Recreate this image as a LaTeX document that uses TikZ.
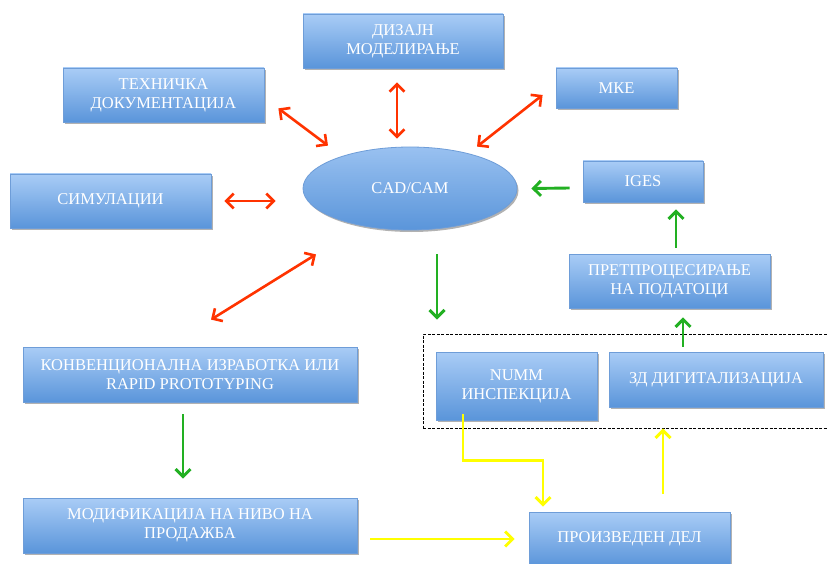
\documentclass[tikz,border=0pt]{standalone}
\usepackage{fontspec}
\setmainfont{Liberation Serif}
\usetikzlibrary{arrows.meta,shadows,calc,shapes.geometric}

\definecolor{boxtop}{HTML}{A9CCF6}
\definecolor{boxbot}{HTML}{5A95DA}
\definecolor{boxline}{HTML}{6E9DD8}
\definecolor{linkred}{HTML}{FF3300}
\definecolor{linkgreen}{HTML}{22B022}
\definecolor{linkyellow}{HTML}{FFFF00}

\tikzset{
  block/.style={rectangle, draw=boxline, line width=0.8pt,
    top color=boxtop, bottom color=boxbot, text=white, align=center,
    font=\fontsize{16.5}{19}\selectfont, inner sep=0pt,
    drop shadow={shadow xshift=1.5pt, shadow yshift=-2pt, opacity=0.3, fill=black}},
  hub/.style={ellipse, draw=boxline, line width=0.8pt,
    top color=boxtop!80!boxbot, bottom color=boxbot, text=white,
    font=\fontsize{16.5}{19}\selectfont, inner sep=0pt,
    drop shadow={shadow xshift=1.5pt, shadow yshift=-2pt, opacity=0.3, fill=black}},
  group/.style={rectangle, draw=black, line width=0.9pt,
    dash pattern=on 3pt off 1.5pt, inner sep=0pt},
  tip/.tip={Straight Barb[length=7.5pt, width=15pt]},
  redlink/.style={draw=linkred, line width=2.6pt, tip-tip},
  greenlink/.style={draw=linkgreen, line width=2.9pt, -tip},
  yellowlink/.style={draw=linkyellow, line width=2.9pt, -tip}
}

\begin{document}
\begin{tikzpicture}[x=1pt, y=-1pt]
  \fill[white] (0,0) rectangle (827,564);
  \useasboundingbox (0,0) rectangle (827,564);

  % scanning group around inspection and digitalisation
  \node[group, minimum width=409, minimum height=94] (grp) at (627.5,381) {};

  % blocks
  \node[block, minimum width=201, minimum height=54] (tech) at (163.5,95)
    {ТЕХНИЧКА\\ДОКУМЕНТАЦИЈА};
  \node[block, minimum width=200, minimum height=54] (design) at (403,41)
    {ДИЗАЈН\\МОДЕЛИРАЊЕ};
  \node[block, minimum width=121, minimum height=40] (fem) at (616.5,88) {МКЕ};
  \node[block, minimum width=201, minimum height=54] (sim) at (110.5,201) {СИМУЛАЦИИ};
  \node[hub, minimum width=214, minimum height=83] (cad) at (410,188.5) {CAD/CAM};
  \node[block, minimum width=120, minimum height=41] (iges) at (643,181.5) {IGES};
  \node[block, minimum width=201, minimum height=54] (prep) at (669.5,281)
    {ПРЕТПРОЦЕСИРАЊЕ\\НА ПОДАТОЦИ};
  \node[block, minimum width=161, minimum height=68] (numm) at (516.5,386)
    {NUMM\\ИНСПЕКЦИЈА};
  \node[block, minimum width=214, minimum height=55] (digi) at (716,379.5)
    {ЗД ДИГИТАЛИЗАЦИЈА};
  \node[block, minimum width=201, minimum height=54] (part) at (629.5,539)
    {ПРОИЗВЕДЕН ДЕЛ};
  \node[block, minimum width=334, minimum height=55] (conv) at (190,374.5)
    {КОНВЕНЦИОНАЛНА ИЗРАБОТКА ИЛИ\\RAPID PROTOTYPING};
  \node[block, minimum width=334, minimum height=55] (mod) at (190,525.5)
    {МОДИФИКАЦИЈА НА НИВО НА\\ПРОДАЖБА};

  % two-way links around CAD/CAM
  \draw[redlink] ($(tech.south east)+(14,-14)$) -- ($(cad.north)+(-82,-1)$);
  \draw[redlink] ($(design.south)+(-6,14)$) -- ($(cad.north)+(-13,-8)$);
  \draw[redlink] ($(fem.west)+(-13,7)$) -- ($(cad.north)+(67,0)$);
  \draw[redlink] ($(sim.east)+(13,0)$) -- ($(cad.west)+(-27,12.5)$);
  \draw[redlink] ($(cad.south)+(-94,24)$) -- ($(conv.north)+(21,-27)$);

  % data flow
  \draw[greenlink] ($(iges.west)+(-13,6.5)$) -- ($(cad.east)+(14,0)$);
  \draw[greenlink] ($(prep.north)+(6.5,-6)$) -- ($(iges.south)+(33,7)$);
  \draw[greenlink] ($(cad.south)+(27,24)$) -- ($(grp.north)+(-190.5,-14)$);
  \draw[greenlink] ($(digi.north)+(-33,-5)$) -- ($(prep.south)+(13.5,9)$);
  \draw[greenlink] ($(conv.south)+(-7,12)$) -- ($(mod.north)+(-7,-19)$);

  % feedback through the produced part
  \draw[yellowlink] ($(numm.south)+(-53.5,-6)$) -- ++(0,46) -| ($(part.north)+(-86.5,-5)$);
  \draw[yellowlink] ($(part.north)+(33.5,-18)$) -- ($(grp.south)+(35.5,0)$);
  \draw[yellowlink] ($(mod.east)+(13,13.5)$) -- ($(part.west)+(-14,0)$);
\end{tikzpicture}
\end{document}
